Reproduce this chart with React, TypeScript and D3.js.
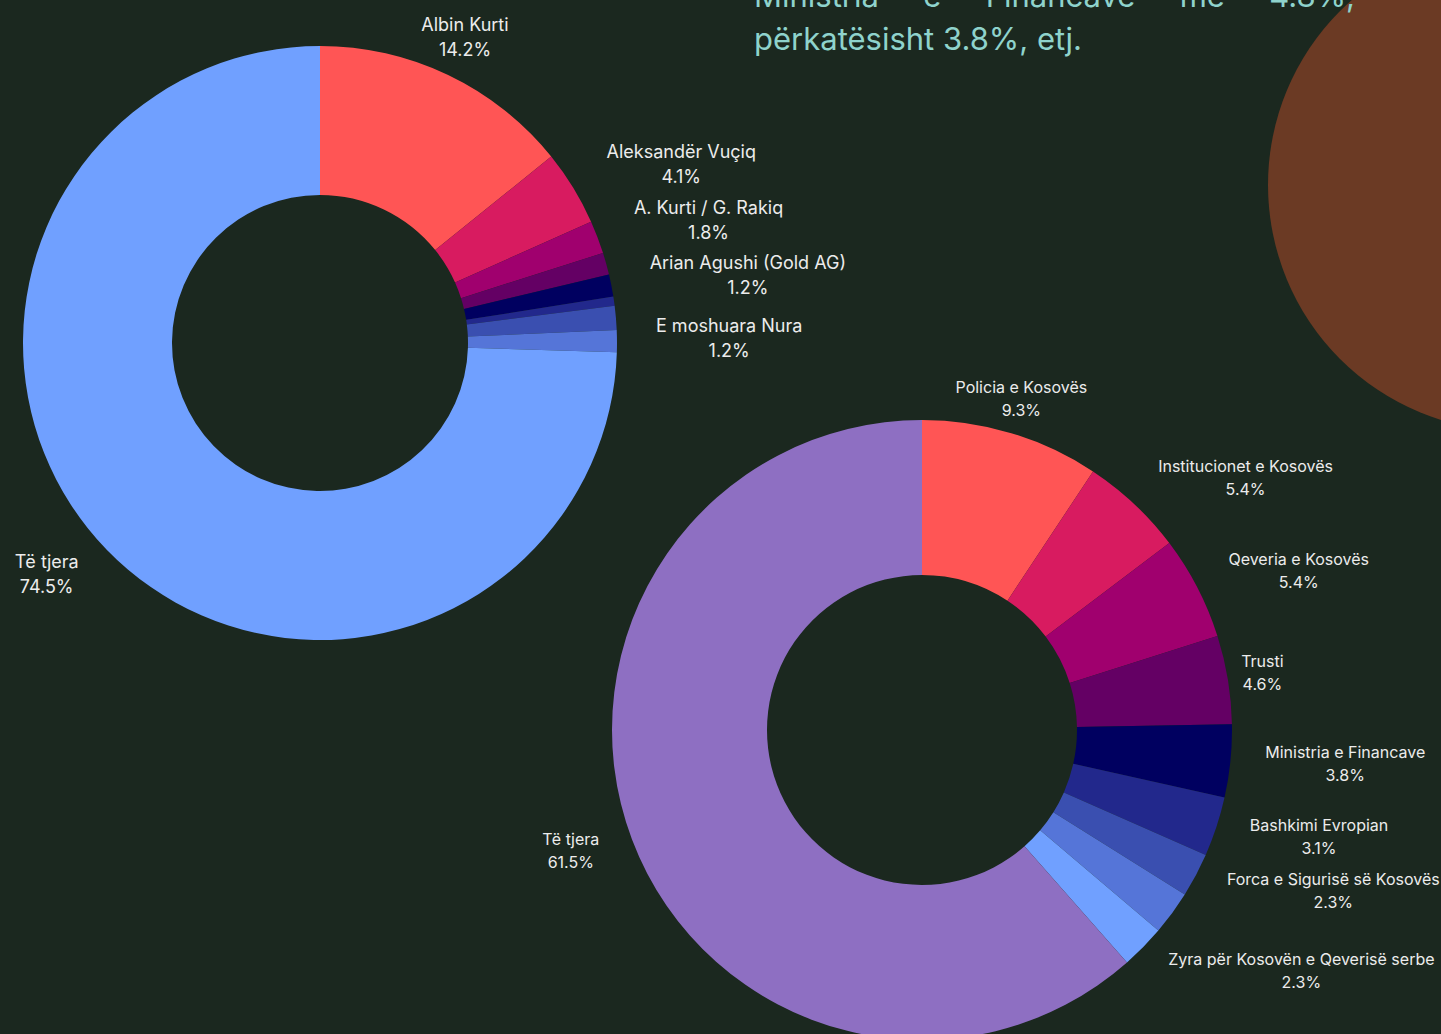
import { useRef, useEffect } from 'react';
import * as d3 from 'd3';

const W = 1441;
const H = 1034;

const BG = '#1b281f';
const TEXT = '#ececec';
const TITLE_COLOR = '#8fd3cc';

const PALETTE = [
  '#ff5555', '#d81b60', '#a0006e', '#640064', '#000060',
  '#22288c', '#3a4fb0', '#5575d8', '#70a0ff', '#8e6fc2',
];

// first donut (persons)
const personLabels = [
  'Albin Kurti', 'Aleksandër Vuçiq', 'A. Kurti / G. Rakiq', '',
  'Arian Agushi (Gold AG)', '', '', 'E moshuara Nura', 'Të tjera',
];
const personValues = [14.2, 4.1, 1.8, 1.2, 1.2, 0.5, 1.3, 1.2, 74.5];

// second donut (institutions)
const instLabels = [
  'Policia e Kosovës', 'Institucionet e Kosovës', 'Qeveria e Kosovës', 'Trusti',
  'Ministria e Financave', 'Bashkimi Evropian', 'Forca e Sigurisë së Kosovës', '',
  'Zyra për Kosovën e Qeverisë serbe', 'Të tjera',
];
const instValues = [9.3, 5.4, 5.4, 4.6, 3.8, 3.1, 2.3, 2.3, 2.3, 61.5];

const titleLine1 = ['Ministria', 'e', 'Financave', 'me', '4.8%,'];
const titleLine2 = 'përkatësisht 3.8%, etj.';

type DonutCfg = {
  labels: string[];
  values: number[];
  cx: number;
  cy: number;
  outer: number;
  inner: number;
  labelGap: number;
  fontSize: number;
  lineGap: number;
  shift: number;
};

function drawDonut(svg: d3.Selection<SVGSVGElement, unknown, null, undefined>, cfg: DonutCfg) {
  const { labels, values, cx, cy, outer, inner, labelGap, fontSize, lineGap, shift } = cfg;
  const pie = d3.pie<number>().sort(null).value((d) => d);
  const arcs = pie(values);
  const arc = d3.arc<d3.PieArcDatum<number>>().innerRadius(inner).outerRadius(outer);
  const color = d3.scaleOrdinal<number, string>().domain(d3.range(PALETTE.length)).range(PALETTE);

  const g = svg.append('g').attr('transform', `translate(${cx},${cy})`);

  g.selectAll('path')
    .data(arcs)
    .join('path')
    .attr('d', arc)
    .attr('fill', (_, i) => color(i));

  const lr = outer + labelGap;
  arcs.forEach((a, i) => {
    if (!labels[i]) return;
    const ang = (a.startAngle + a.endAngle) / 2;
    const ax = lr * Math.sin(ang);
    const ay = -lr * Math.cos(ang) + shift;

    const t = g.append('text')
      .attr('font-family', 'Inter, sans-serif')
      .attr('font-size', fontSize)
      .attr('fill', TEXT)
      .attr('text-anchor', 'middle');
    const c1 = ay - lineGap / 2;
    const c2 = ay + lineGap / 2;
    const capHalf = fontSize * 0.36;
    t.append('tspan').attr('x', ax).attr('y', c1 + capHalf).text(labels[i]);
    t.append('tspan').attr('x', ax).attr('y', c2 + capHalf).text(`${values[i].toFixed(1)}%`);

    // centred label unless its box would run into the ring
    const widths = (t.selectAll('tspan').nodes() as SVGTextContentElement[]).map((n) => n.getComputedTextLength());
    const w = Math.max(...widths);
    const x0 = ax - w / 2;
    const x1 = ax + w / 2;
    const y0 = c1 - fontSize * 0.5;
    const y1 = c2 + fontSize * 0.5;
    const nx = Math.max(x0, Math.min(0, x1));
    const ny = Math.max(y0, Math.min(0, y1));
    const hits = Math.hypot(nx, ny) < outer + 2.8;

    if (hits) {
      const right = ax >= 0;
      t.selectAll('tspan').attr('x', (_, k) => right ? ax + (w - widths[k]) / 2 : ax - (w - widths[k]) / 2);
      t.attr('text-anchor', right ? 'start' : 'end');
    }
  });
}

export default function App() {
  const svgRef = useRef<SVGSVGElement>(null);

  useEffect(() => {
    document.body.style.margin = '0';
    document.body.style.background = BG;
    const svg = d3.select(svgRef.current!);
    svg.selectAll('*').remove();

    svg.append('rect').attr('width', W).attr('height', H).attr('fill', BG);

    // decorative circle on the right
    svg.append('circle').attr('cx', 1514).attr('cy', 185).attr('r', 246).attr('fill', '#6b3a24');

    // justified paragraph fragment
    const tx0 = 754;
    const tx1 = 1355;
    const title = svg.append('g')
      .attr('font-family', 'Inter, sans-serif')
      .attr('font-size', 31)
      .attr('fill', TITLE_COLOR);
    const words = titleLine1.map((w) => title.append('text').attr('y', 7).text(w));
    const ww = words.map((s) => (s.node() as SVGTextElement).getComputedTextLength());
    const gap = (tx1 - tx0 - d3.sum(ww)) / (ww.length - 1);
    let x = tx0;
    words.forEach((s, i) => { s.attr('x', x); x += ww[i] + gap; });
    title.append('text').attr('x', tx0).attr('y', 50).text(titleLine2);

    drawDonut(svg, {
      labels: personLabels, values: personValues,
      cx: 320, cy: 343, outer: 297, inner: 148,
      labelGap: 39, fontSize: 18, lineGap: 25, shift: -3,
    });
    drawDonut(svg, {
      labels: instLabels, values: instValues,
      cx: 922, cy: 730, outer: 310, inner: 155,
      labelGap: 35, fontSize: 16, lineGap: 23, shift: -1,
    });
  }, []);

  return <svg ref={svgRef} width={W} height={H} style={{ display: 'block' }} />;
}
